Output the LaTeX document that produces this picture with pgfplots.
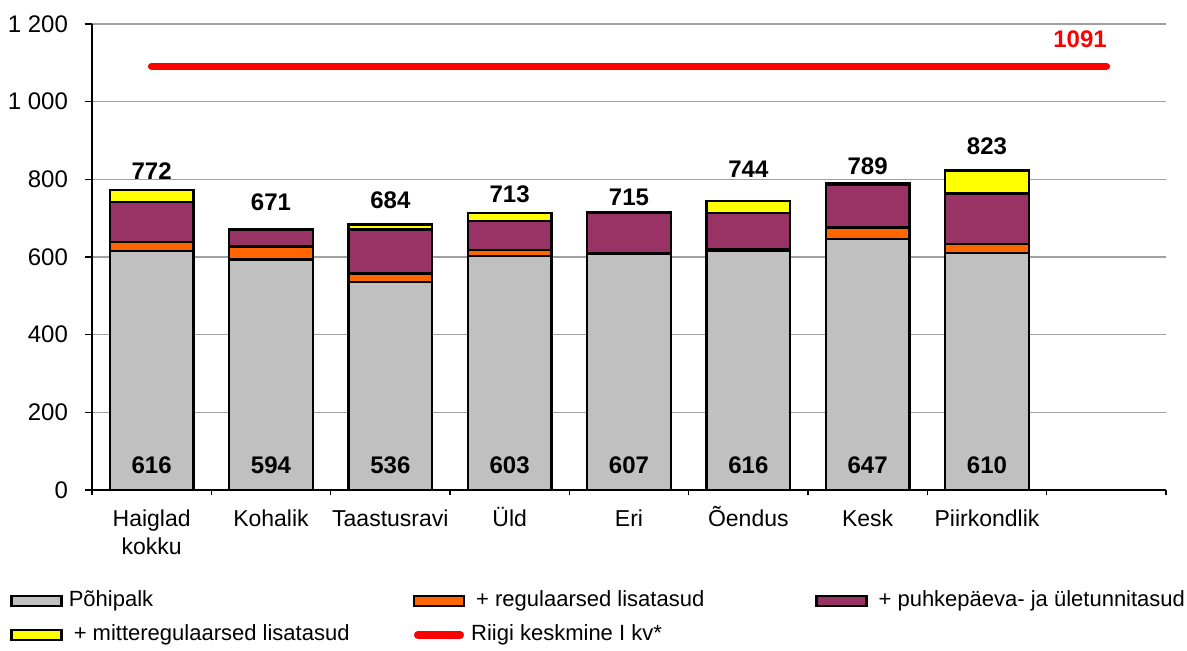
\documentclass[border=0pt]{standalone}
\usepackage{fontspec}
\setmainfont{Liberation Sans}
\usepackage{pgfplots}
\pgfplotsset{compat=1.18}
\usetikzlibrary{calc}

\definecolor{cBase}{HTML}{C0C0C0}
\definecolor{cReg}{HTML}{FF6600}
\definecolor{cPuhke}{HTML}{993366}
\definecolor{cMitte}{HTML}{FFFF00}
\definecolor{cRiik}{HTML}{FF0000}
\definecolor{cGrid}{HTML}{A0A0A0}

\newcommand\tickfont{\fontsize{11.5}{14}\selectfont}
\newcommand\ytickfont{\fontsize{12}{14}\selectfont}
\newcommand\labfont{\bfseries\fontsize{12}{14}\selectfont}
\newcommand\legfont{\fontsize{11}{13}\selectfont}
\newcommand\xs{\rule{0pt}{11pt}}

\pgfplotsset{
  riik legend/.style={legend image code/.code={%
    \draw[cRiik, line width=3.8pt, line cap=round] (1.9pt,0pt) -- (23.1pt,0pt);}},
  common/.style={
    scale only axis, width=537pt, height=233pt,
    xmin=-0.5, xmax=8.5, ymin=0, ymax=1200,
  },
  lbl/.style={draw=none, mark=none, nodes near coords,
    point meta=explicit symbolic,
    nodes near coords style={anchor=center, font=\labfont, text=#1}},
}

\begin{document}
\begin{tikzpicture}
\begin{axis}[
  common, name=main,
  ybar stacked, bar width=0.7,
  axis x line*=bottom, axis y line*=left,
  axis line style={black, line width=0.6pt},
  xtick={0,...,7},
  xticklabels={{\xs Haiglad\\kokku}, \xs Kohalik, \xs Taastusravi, \xs Üld, \xs Eri, \xs Õendus, \xs Kesk, \xs Piirkondlik},
  xticklabel style={align=center, font=\tickfont, anchor=north},
  minor xtick={-0.5,0.5,...,8.5},
  major x tick style={draw=none},
  ytick={0,200,...,1200},
  yticklabels={0,200,400,600,800,1 000,1 200},
  yticklabel style={font=\ytickfont, xshift=-5pt},
  tick align=outside,
  major tick length=3.5pt, minor tick length=2.5pt,
  tick style={black, line width=0.6pt},
  ymajorgrids, grid style={cGrid, line width=0.6pt},
  legend columns=3,
  legend cell align=left,
  legend image code/.code={\draw[#1, line width=1.2pt] (0pt,-2.5pt) rectangle (25pt,2.5pt);},
  legend style={at={(axis description cs:0,0)}, anchor=north west,
    xshift=-41pt, yshift=-50pt, draw=none, fill=none, inner sep=0pt,
    column sep=0pt, row sep=6.5pt, font=\legfont,
    nodes={inner sep=0pt, text height=8pt, text depth=2.5pt},
    /tikz/every odd column/.append style={column sep=3pt}},
]
\addplot[fill=cBase, draw=black, line width=1.2pt] coordinates
  {(0,616) (1,594) (2,536) (3,603) (4,607) (5,616) (6,647) (7,610)};
\addlegendentry{\makebox[172pt][l]{Põhipalk}}
\addplot[fill=cReg, draw=black, line width=1.2pt] coordinates
  {(0,22) (1,33) (2,22) (3,15) (4,2) (5,5) (6,29) (7,24)};
\addlegendentry{\makebox[172pt][l]{\hspace{2.5pt}+ regulaarsed lisatasud}}
\addplot[fill=cPuhke, draw=black, line width=1.2pt] coordinates
  {(0,103) (1,44) (2,113) (3,75) (4,106) (5,92) (6,110) (7,130)};
\addlegendentry{\hspace{2.5pt}+ puhkepäeva- ja ületunnitasud}
\addplot[fill=cMitte, draw=black, line width=1.2pt] coordinates
  {(0,31) (1,0) (2,13) (3,20) (4,0) (5,31) (6,3) (7,59)};
\addlegendentry{\makebox[172pt][l]{\hspace{2.5pt}+ mitteregulaarsed lisatasud}}
\addlegendimage{riik legend}
\addlegendentry{Riigi keskmine I kv*}
\end{axis}

\begin{axis}[common, hide axis, clip=false]
\addplot[cRiik, line width=3.8pt, line cap=round] coordinates {(0,1091) (8,1091)};
% summad tulpade kohal
\addplot[lbl=black] coordinates {(0,821)[772] (1,740)[671] (2,747)[684] (3,762)[713]
  (4,753)[715] (5,827)[744] (6,834)[789] (7,886)[823]};
% põhipalk tulba sees
\addplot[lbl=black] coordinates {(0,64)[616] (1,64)[594] (2,64)[536] (3,64)[603]
  (4,64)[607] (5,64)[616] (6,64)[647] (7,64)[610]};
\addplot[lbl=cRiik] coordinates {(7.78,1161)[1091]};
\end{axis}

\path[use as bounding box] ($(main.south west)+(-46pt,-80pt)$) rectangle ($(main.north east)+(10.5pt,12pt)$);
\end{tikzpicture}
\end{document}
